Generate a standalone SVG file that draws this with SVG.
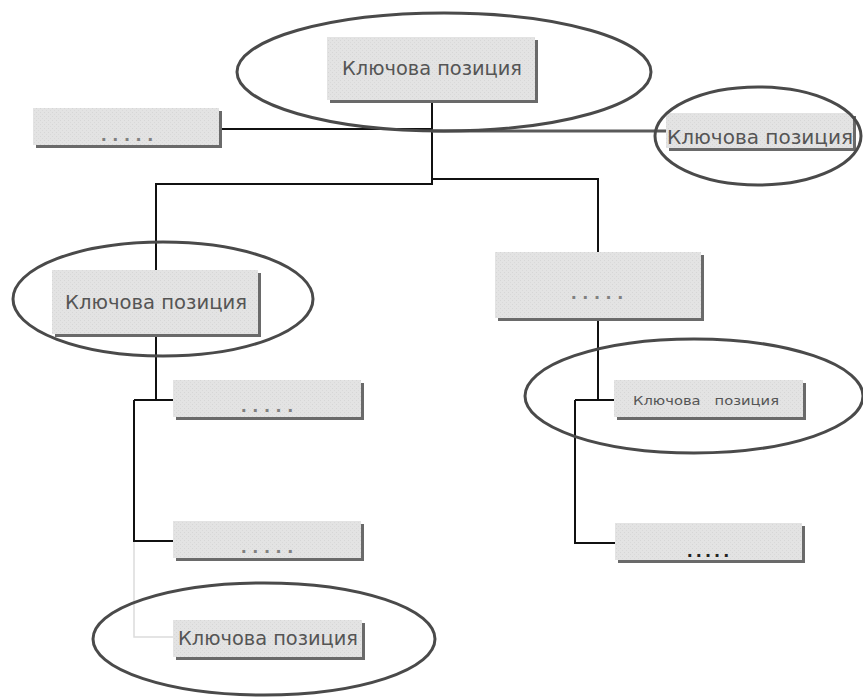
<svg xmlns="http://www.w3.org/2000/svg" width="863" height="697" viewBox="0 0 863 697">
<defs>
<pattern id="tex" width="4" height="4" patternUnits="userSpaceOnUse">
<rect width="4" height="4" fill="#e3e3e3"/>
<rect x="0" y="0" width="1" height="1" fill="#d6d6d6"/>
<rect x="2" y="2" width="1" height="1" fill="#d9d9d9"/>
</pattern>
</defs>
<style>
.box{fill:url(#tex);}
.sh{fill:#6a6a6a;}
.ell{fill:none;stroke:#4a4a4a;stroke-width:3;}
.ln{fill:none;stroke:#111;stroke-width:2;}
.lbl{font-family:"DejaVu Sans","Liberation Sans",sans-serif;fill:#555;text-anchor:middle;}
.dots{font-family:"Liberation Sans",sans-serif;fill:#808080;font-size:20px;font-weight:bold;text-anchor:middle;}
</style>
<rect width="863" height="697" fill="#fff"/>
<g id="connectors">
<path class="ln" d="M432,100 V185"/>
<path class="ln" d="M219,129 H432"/>
<path d="M432,131 H666" fill="none" stroke="#5a5a5a" stroke-width="3"/>
<path class="ln" d="M156,270 V184 H432"/>
<path class="ln" d="M432,179 H598 V252"/>
<path class="ln" d="M598,318 V400"/>
<path class="ln" d="M575,400 H614"/>
<path class="ln" d="M575,400 V543 H615"/>
<path class="ln" d="M156,334 V400"/>
<path class="ln" d="M134,400 H173"/>
<path class="ln" d="M134,400 V541 H173"/>
<path d="M134,542 V637 H173" fill="none" stroke="#dcdcdc" stroke-width="1.5"/>
</g>
<g id="n1">
<rect class="sh" x="330" y="40" width="208" height="63"/>
<rect class="box" x="327" y="37" width="208" height="63"/>
<text class="lbl" x="432" y="75" font-size="19" textLength="180" lengthAdjust="spacingAndGlyphs">Ключова позиция</text>
<ellipse class="ell" cx="444" cy="72" rx="207" ry="59"/>
</g>
<g id="n2">
<rect class="sh" x="36" y="111" width="186" height="37"/>
<rect class="box" x="33" y="108" width="186" height="37"/>
<text class="dots" x="127" y="141" textLength="52">.....</text>
</g>
<g id="n3">
<rect class="sh" x="669" y="116" width="187" height="35"/>
<rect class="box" x="666" y="113" width="187" height="35"/>
<text class="lbl" x="760" y="144" font-size="19" textLength="186" lengthAdjust="spacingAndGlyphs">Ключова позиция</text>
<ellipse class="ell" cx="758" cy="136" rx="103" ry="49"/>
</g>
<g id="n4">
<rect class="sh" x="55" y="273" width="206" height="64"/>
<rect class="box" x="52" y="270" width="206" height="64"/>
<text class="lbl" x="156" y="309" font-size="19" textLength="182" lengthAdjust="spacingAndGlyphs">Ключова позиция</text>
<ellipse class="ell" cx="163" cy="299" rx="150" ry="57"/>
</g>
<g id="n5">
<rect class="sh" x="498" y="255" width="206" height="66"/>
<rect class="box" x="495" y="252" width="206" height="66"/>
<text class="dots" x="597" y="299" textLength="52">.....</text>
</g>
<g id="n6">
<rect class="sh" x="617" y="383" width="189" height="37"/>
<rect class="box" x="614" y="380" width="189" height="37"/>
<text class="lbl" x="706" y="405" font-size="13" textLength="146" lengthAdjust="spacingAndGlyphs" style="white-space:pre">Ключова   позиция</text>
<ellipse class="ell" cx="694" cy="396" rx="169" ry="57"/>
</g>
<g id="n7">
<rect class="sh" x="176" y="383" width="188" height="37"/>
<rect class="box" x="173" y="380" width="188" height="37"/>
<text class="dots" x="267" y="412" textLength="52">.....</text>
</g>
<g id="n8">
<rect class="sh" x="176" y="524" width="188" height="37"/>
<rect class="box" x="173" y="521" width="188" height="37"/>
<text class="dots" x="267" y="553" textLength="52">.....</text>
</g>
<g id="n9">
<rect class="sh" x="618" y="526" width="187" height="37"/>
<rect class="box" x="615" y="523" width="187" height="37"/>
<text class="dots" x="708" y="557" textLength="42" style="fill:#222">.....</text>
</g>
<g id="n10">
<rect class="sh" x="176" y="623" width="189" height="37"/>
<rect class="box" x="173" y="620" width="189" height="37"/>
<text class="lbl" x="268" y="645" font-size="19" textLength="180" lengthAdjust="spacingAndGlyphs">Ключова позиция</text>
<ellipse class="ell" cx="264" cy="639" rx="171" ry="56"/>
</g>
</svg>
